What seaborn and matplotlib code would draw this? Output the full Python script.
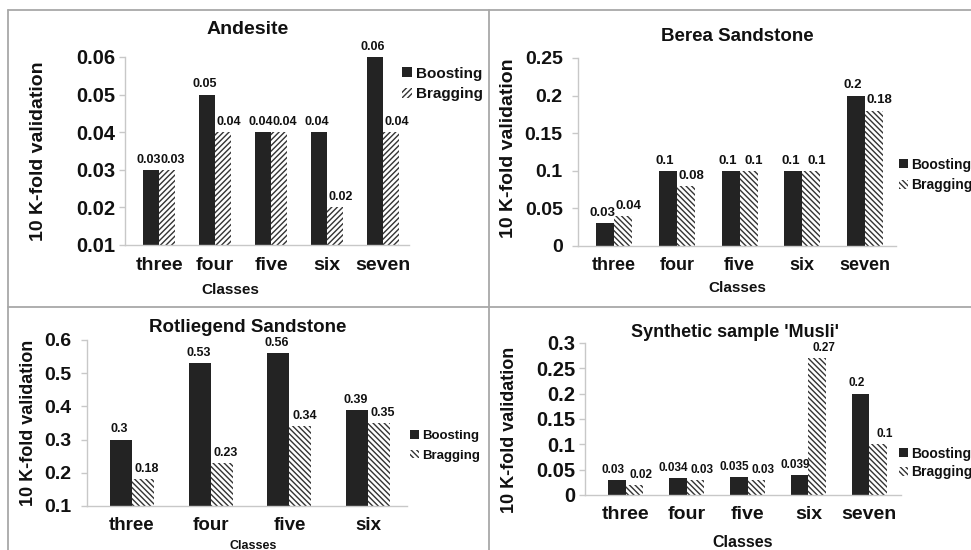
import matplotlib
matplotlib.use("Agg")
import matplotlib.pyplot as plt
from matplotlib.lines import Line2D
from matplotlib.patches import Patch
from matplotlib.ticker import FuncFormatter, MultipleLocator
import pandas as pd
import seaborn as sns

# ---- data -------------------------------------------------------------
methods = ["Boosting", "Bragging"]

andesite_classes = ["three", "four", "five", "six", "seven"]
andesite_boosting = [0.03, 0.05, 0.04, 0.04, 0.06]
andesite_bragging = [0.03, 0.04, 0.04, 0.02, 0.04]

berea_classes = ["three", "four", "five", "six", "seven"]
berea_boosting = [0.03, 0.1, 0.1, 0.1, 0.2]
berea_bragging = [0.04, 0.08, 0.1, 0.1, 0.18]

rotliegend_classes = ["three", "four", "five", "six"]
rotliegend_boosting = [0.3, 0.53, 0.56, 0.39]
rotliegend_bragging = [0.18, 0.23, 0.34, 0.35]

musli_classes = ["three", "four", "five", "six", "seven"]
musli_boosting = [0.03, 0.034, 0.035, 0.039, 0.2]
musli_bragging = [0.02, 0.03, 0.03, 0.27, 0.1]

titles = ["Andesite", "Berea Sandstone", "Rotliegend Sandstone",
          "Synthetic sample 'Musli'"]
y_label = "10 K-fold validation"
x_label = "Classes"

# ---- style ------------------------------------------------------------
sns.set_theme(style="white")
plt.rcParams["font.family"] = ["Liberation Sans", "DejaVu Sans"]
plt.rcParams["font.weight"] = "bold"
plt.rcParams["hatch.linewidth"] = 1.0
TEXT = "#111111"
DARK = "#232323"
HATCH = "#333333"
SPINE = "#c8c8c8"
FRAME = "#a8a8a8"

W, H = 971, 550
fig = plt.figure(figsize=(W / 100, H / 100), dpi=100)
fig.patch.set_facecolor("white")


def frac_axes(x0, y0, x1, y1):
    return fig.add_axes([x0 / W, 1 - y1 / H, (x1 - x0) / W, (y1 - y0) / H])


panels = [
    dict(classes=andesite_classes, boost=andesite_boosting, brag=andesite_bragging,
         title=titles[0], box=(125, 57, 409, 245), ylim=(0.01, 0.06), step=0.01,
         xlim=(-0.61, 4.46), width=0.57, hatch="//////",
         tfs=14, title_xy=(0.433, 1.144), ytfs=14.5, xtfs=14, xpad=9, ypad=3,
         ylab_xy=(-0.306, 0.5), ylfs=14, xlab_xy=(0.37, -0.24), xlfs=11,
         leg_xy=(402, 84), legfs=11, legsp=0.45, vfs=9, vdx=(-2, 4)),
    dict(classes=berea_classes, boost=berea_boosting, brag=berea_bragging,
         title=titles[1], box=(578, 58, 896, 246), ylim=(0, 0.25), step=0.05,
         xlim=(-0.574, 4.494), width=0.574, hatch="\\\\\\\\\\\\",
         tfs=13.5, title_xy=(0.5, 1.117), ytfs=14, xtfs=13, xpad=8, ypad=7,
         ylab_xy=(-0.22, 0.52), ylfs=14, xlab_xy=(0.5, -0.223), xlfs=11,
         leg_xy=(899, 175), legfs=10, legsp=0.5, vfs=9.5, vdx=(-2, 4)),
    dict(classes=rotliegend_classes, boost=rotliegend_boosting, brag=rotliegend_bragging,
         title=titles[2], box=(87, 340, 407, 506), ylim=(0.1, 0.6), step=0.1,
         xlim=(-0.572, 3.496), width=0.56, hatch="\\\\\\\\\\\\",
         tfs=13.5, title_xy=(0.503, 1.078), ytfs=14, xtfs=13.5, xpad=8, ypad=7,
         ylab_xy=(-0.184, 0.5), ylfs=13, xlab_xy=(0.52, -0.24), xlfs=9,
         leg_xy=(410, 446), legfs=9.5, legsp=0.55, vfs=9, vdx=(-1, 3)),
    dict(classes=musli_classes, boost=musli_boosting, brag=musli_bragging,
         title=titles[3], box=(585, 343, 901, 495), ylim=(0, 0.3), step=0.05,
         xlim=(-0.668, 4.52), width=0.58, hatch="\\\\\\\\\\\\",
         tfs=13, title_xy=(0.475, 1.066), ytfs=14.5, xtfs=14, xpad=8, ypad=3,
         ylab_xy=(-0.24, 0.43), ylfs=13, xlab_xy=(0.5, -0.31), xlfs=11.5,
         leg_xy=(899, 463), legfs=10, legsp=0.35, vfs=8.5, vdx=(-3, 5)),
]

for p in panels:
    ax = frac_axes(*p["box"])
    n = len(p["classes"])
    df = pd.DataFrame({
        "Class": p["classes"] * 2,
        "Method": [methods[0]] * n + [methods[1]] * n,
        "Value": list(p["boost"]) + list(p["brag"]),
    })
    sns.barplot(data=df, x="Class", y="Value", hue="Method", order=p["classes"],
                hue_order=methods, palette={methods[0]: DARK, methods[1]: "white"},
                width=p["width"], gap=0, saturation=1, legend=False, ax=ax,
                errorbar=None, linewidth=0)

    boost_bars, brag_bars = ax.containers[0], ax.containers[1]
    for bar in boost_bars:
        bar.set_facecolor(DARK)
        bar.set_edgecolor(DARK)
        bar.set_linewidth(0)
    for bar in brag_bars:
        bar.set_facecolor("white")
        bar.set_edgecolor(HATCH)
        bar.set_hatch(p["hatch"])
        bar.set_linewidth(0)

    # value labels: Boosting nudged left, Bragging nudged right
    dx_boost, dx_brag = p["vdx"]
    for cont, vals, dx in ((boost_bars, p["boost"], dx_boost),
                           (brag_bars, p["brag"], dx_brag)):
        for bar, v in zip(cont, vals):
            ax.annotate(f"{v:g}", xy=(bar.get_x() + bar.get_width() / 2, v),
                        xytext=(dx, 3), textcoords="offset points",
                        ha="center", va="bottom", fontsize=p["vfs"],
                        fontweight="bold", color=TEXT, annotation_clip=False)

    ax.set_xlim(*p["xlim"])
    ax.set_ylim(*p["ylim"])
    ax.yaxis.set_major_locator(MultipleLocator(p["step"]))
    ax.yaxis.set_major_formatter(FuncFormatter(lambda v, _: f"{round(v, 4):g}"))

    for side in ("top", "right"):
        ax.spines[side].set_visible(False)
    for side in ("left", "bottom"):
        ax.spines[side].set_color(SPINE)
        ax.spines[side].set_linewidth(1.0)
    ax.tick_params(axis="y", length=4, width=1, color=SPINE, direction="out",
                   pad=p["ypad"], labelsize=p["ytfs"], labelcolor=TEXT, left=True)
    ax.tick_params(axis="x", length=0, pad=p["xpad"], labelsize=p["xtfs"],
                   labelcolor=TEXT)
    for lab in ax.get_xticklabels() + ax.get_yticklabels():
        lab.set_fontweight("bold")

    ax.set_title(p["title"], x=p["title_xy"][0], y=p["title_xy"][1], va="center",
                 fontsize=p["tfs"], fontweight="bold", color=TEXT, pad=0)
    ax.set_ylabel(y_label, fontsize=p["ylfs"], fontweight="bold", color=TEXT)
    ax.yaxis.set_label_coords(*p["ylab_xy"])
    ax.yaxis.label.set_va("center")
    ax.set_xlabel(x_label, fontsize=p["xlfs"], fontweight="bold", color=TEXT)
    ax.xaxis.set_label_coords(*p["xlab_xy"])
    ax.xaxis.label.set_va("center")

    handles = [Patch(facecolor=DARK, edgecolor=DARK, linewidth=0),
               Patch(facecolor="white", edgecolor=HATCH, hatch=p["hatch"], linewidth=0)]
    lx, ly = p["leg_xy"]
    leg = ax.legend(handles, methods, loc="center left",
                    bbox_to_anchor=(lx / W, 1 - ly / H), bbox_transform=fig.transFigure,
                    frameon=False, fontsize=p["legfs"], handlelength=0.65,
                    handleheight=0.65, handletextpad=0.25, borderpad=0,
                    borderaxespad=0, labelspacing=p["legsp"])
    for t in leg.get_texts():
        t.set_fontweight("bold")
        t.set_color(TEXT)

# panel frames
frame_lines = [
    ((8, 10), (8, 550)),
    ((8, 10), (971, 10)),
    ((489, 10), (489, 550)),
    ((8, 307), (971, 307)),
]
for (x0, y0), (x1, y1) in frame_lines:
    fig.add_artist(Line2D([x0 / W, x1 / W], [1 - y0 / H, 1 - y1 / H],
                          transform=fig.transFigure, color=FRAME, linewidth=1.3))

fig.savefig("out.png", dpi=100, facecolor="white")
